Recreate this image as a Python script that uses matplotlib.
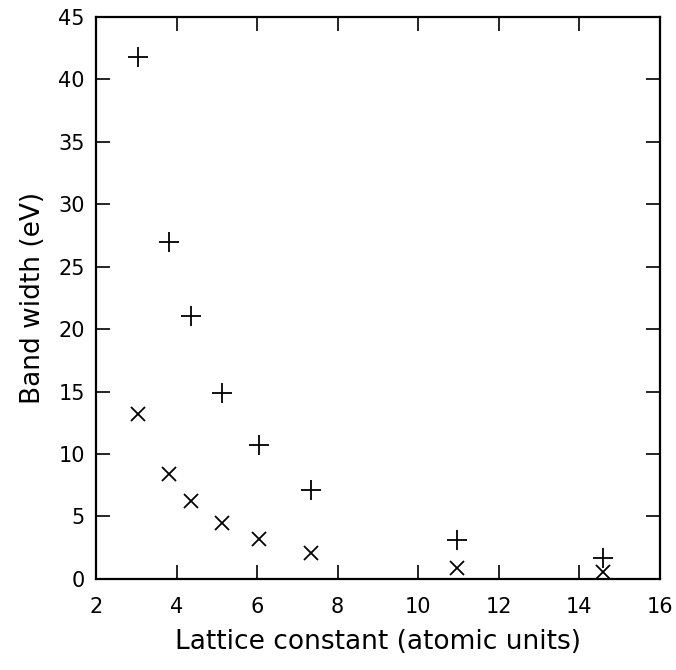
import matplotlib
matplotlib.use("Agg")
import matplotlib.pyplot as plt

# Datos
lattice = [3.05, 3.82, 4.37, 5.14, 6.04, 7.33, 10.96, 14.6]
width_plus = [41.8, 27.0, 21.05, 14.9, 10.7, 7.1, 3.1, 1.7]
width_cross = [13.2, 8.4, 6.2, 4.5, 3.2, 2.1, 0.9, 0.55]

xticks = [2, 4, 6, 8, 10, 12, 14, 16]
yticks = [0, 5, 10, 15, 20, 25, 30, 35, 40, 45]

plt.rcParams['font.family'] = ['DejaVu Sans']

fig = plt.figure(figsize=(6.76, 6.70), dpi=100)
ax = fig.add_axes([0.142, 0.136, 0.834, 0.839])

ax.plot(lattice, width_plus, linestyle='none', marker='+', markersize=14,
        markeredgewidth=1.3, color='black')
ax.plot(lattice, width_cross, linestyle='none', marker='x', markersize=10,
        markeredgewidth=1.3, color='black')

ax.set_xlim(2, 16)
ax.set_ylim(0, 45)
ax.set_xticks(xticks)
ax.set_yticks(yticks)
ax.tick_params(direction='in', length=10, width=1.2, top=True, right=True,
               labelsize=15, pad=8)
ax.tick_params(axis='x', pad=13)
for s in ax.spines.values():
    s.set_linewidth(1.6)

ax.set_xlabel('Lattice constant (atomic units)', fontsize=19, labelpad=9)
ax.set_ylabel('Band width (eV)', fontsize=19, labelpad=9)

fig.savefig('out.png', dpi=100)
